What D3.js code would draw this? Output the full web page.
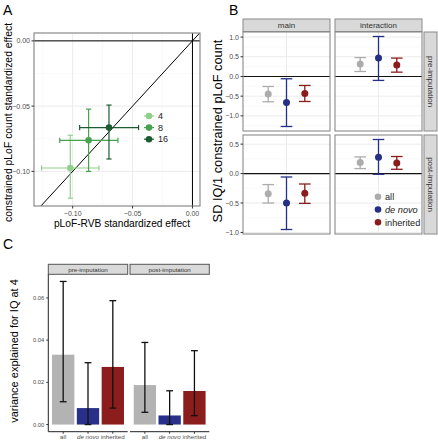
<!DOCTYPE html>
<html><head><meta charset="utf-8">
<script src="https://cdn.jsdelivr.net/npm/d3@7"></script>
<style>body{margin:0;background:#fff} svg{display:block;font-family:"Liberation Sans",Arial,sans-serif}</style>
</head><body><svg id="c" width="438" height="440"></svg>
<script>
// ---------- Panel A data ----------
const aGroups = ["4", "8", "16"];
const aX   = [-0.1020, -0.0867, -0.0697];
const aXlo = [-0.1260, -0.1108, -0.0942];
const aXhi = [-0.0781, -0.0622, -0.0450];
const aY   = [-0.0974, -0.0762, -0.0664];
const aYlo = [-0.1205, -0.1000, -0.0905];
const aYhi = [-0.0723, -0.0523, -0.0492];
const aColors = ["#8fd08a", "#45a24f", "#1d5b30"];
const aTicks = [-0.10, -0.05, 0.00];
const aMinor = [-0.125, -0.075, -0.025];

// ---------- Panel B data ----------
const bCats = ["all", "de novo", "inherited"];
const bCols = ["main", "interaction"];
const bRows = ["pre-imputation", "post-imputation"];
const bPreMainEst = [-0.447, -0.660, -0.430];
const bPreMainLo  = [-0.642, -1.270, -0.635];
const bPreMainHi  = [-0.254, -0.058, -0.228];
const bPreIntEst  = [0.315, 0.467, 0.289];
const bPreIntLo   = [0.127, -0.100, 0.110];
const bPreIntHi   = [0.480, 1.015, 0.467];
const bPostMainEst = [-0.341, -0.500, -0.336];
const bPostMainLo  = [-0.500, -0.950, -0.506];
const bPostMainHi  = [-0.187, -0.058, -0.177];
const bPostIntEst  = [0.187, 0.278, 0.181];
const bPostIntLo   = [0.085, -0.012, 0.073];
const bPostIntHi   = [0.283, 0.579, 0.290];
const bColors = ["#acacac", "#262f86", "#8b1c1c"];
const bPreTicks = [-1.0, -0.5, 0.0, 0.5, 1.0];
const bPostTicks = [-1.0, -0.5, 0.0, 0.5];

// ---------- Panel C data ----------
const cPanels = ["pre-imputation", "post-imputation"];
const cPreVal  = [0.0331, 0.0078, 0.0273];
const cPreLo   = [0.0108, 0.0000, 0.0078];
const cPreHi   = [0.0678, 0.0293, 0.0587];
const cPostVal = [0.0187, 0.0043, 0.0159];
const cPostLo  = [0.0058, 0.0000, 0.0042];
const cPostHi  = [0.0389, 0.0160, 0.0350];
const cColors = ["#b3b3b3", "#29308a", "#8c1d1d"];
const cTicks = [0.00, 0.02, 0.04, 0.06];

const svg = d3.select("#c");
const GRID = "#ebebeb", GRIDMIN = "#f5f5f5", BORDER = "#8a8a8a", TXT = "#4d4d4d";
const fmt2 = v => d3.format(".2f")(v).replace("-", "\u2212");
const fmt1 = v => d3.format(".1f")(v).replace("-", "\u2212");
function expand(lo, hi, m = 0.05) { const r = hi - lo; return [lo - r * m, hi + r * m]; }

// panel letters
[["A", 3, 15], ["B", 229, 15], ["C", 3, 249]].forEach(([t, x, y]) =>
  svg.append("text").attr("x", x).attr("y", y).attr("font-size", 14).text(t));

// ================= Panel A =================
{
  const L = 34, R = 200, T = 33, B = 206;
  const xd = expand(d3.min(aXlo.concat([0])), d3.max(aXhi.concat([0])));
  const yd = expand(d3.min(aYlo.concat([0])), d3.max(aYhi.concat([0])));
  const x = d3.scaleLinear().domain(xd).range([L, R]);
  const y = d3.scaleLinear().domain(yd).range([B, T]);
  const g = svg.append("g");
  g.append("rect").attr("x", L).attr("y", T).attr("width", R - L).attr("height", B - T).attr("fill", "#fff");
  aMinor.forEach(v => {
    if (v > xd[0]) g.append("line").attr("x1", x(v)).attr("x2", x(v)).attr("y1", T).attr("y2", B).attr("stroke", GRIDMIN).attr("stroke-width", 0.6);
    if (v > yd[0]) g.append("line").attr("y1", y(v)).attr("y2", y(v)).attr("x1", L).attr("x2", R).attr("stroke", GRIDMIN).attr("stroke-width", 0.6);
  });
  aTicks.forEach(v => {
    g.append("line").attr("x1", x(v)).attr("x2", x(v)).attr("y1", T).attr("y2", B).attr("stroke", GRID).attr("stroke-width", 1);
    g.append("line").attr("y1", y(v)).attr("y2", y(v)).attr("x1", L).attr("x2", R).attr("stroke", GRID).attr("stroke-width", 1);
  });
  const clipId = "clipA";
  svg.append("clipPath").attr("id", clipId).append("rect").attr("x", L).attr("y", T).attr("width", R - L).attr("height", B - T);
  const gc = g.append("g").attr("clip-path", `url(#${clipId})`);
  gc.append("line").attr("x1", x(0)).attr("x2", x(0)).attr("y1", T).attr("y2", B).attr("stroke", "#000").attr("stroke-width", 1);
  gc.append("line").attr("y1", y(0)).attr("y2", y(0)).attr("x1", L).attr("x2", R).attr("stroke", "#000").attr("stroke-width", 1);
  const dl = Math.min(xd[0], yd[0]), dh = Math.max(xd[1], yd[1]);
  gc.append("line").attr("x1", x(dl)).attr("y1", y(dl)).attr("x2", x(dh)).attr("y2", y(dh)).attr("stroke", "#000").attr("stroke-width", 1);
  aGroups.forEach((k, i) => {
    const c = aColors[i], cap = 2.6;
    gc.append("line").attr("x1", x(aXlo[i])).attr("x2", x(aXhi[i])).attr("y1", y(aY[i])).attr("y2", y(aY[i])).attr("stroke", c).attr("stroke-width", 1.2);
    [aXlo[i], aXhi[i]].forEach(v => gc.append("line").attr("x1", x(v)).attr("x2", x(v)).attr("y1", y(aY[i]) - cap).attr("y2", y(aY[i]) + cap).attr("stroke", c).attr("stroke-width", 1.2));
    gc.append("line").attr("x1", x(aX[i])).attr("x2", x(aX[i])).attr("y1", y(aYlo[i])).attr("y2", y(aYhi[i])).attr("stroke", c).attr("stroke-width", 1.2);
    [aYlo[i], aYhi[i]].forEach(v => gc.append("line").attr("y1", y(v)).attr("y2", y(v)).attr("x1", x(aX[i]) - cap).attr("x2", x(aX[i]) + cap).attr("stroke", c).attr("stroke-width", 1.2));
    gc.append("circle").attr("cx", x(aX[i])).attr("cy", y(aY[i])).attr("r", 3.3).attr("fill", c);
  });
  g.append("rect").attr("x", L).attr("y", T).attr("width", R - L).attr("height", B - T).attr("fill", "none").attr("stroke", BORDER).attr("stroke-width", 1.2);
  aTicks.forEach(v => {
    g.append("line").attr("x1", x(v)).attr("x2", x(v)).attr("y1", B).attr("y2", B + 2.5).attr("stroke", "#333");
    g.append("text").attr("x", x(v)).attr("y", B + 9.5).attr("text-anchor", "middle").attr("font-size", 7).attr("fill", TXT).text(fmt2(v));
    g.append("line").attr("x1", L - 2.5).attr("x2", L).attr("y1", y(v)).attr("y2", y(v)).attr("stroke", "#333");
    g.append("text").attr("x", L - 4).attr("y", y(v) + 2.5).attr("text-anchor", "end").attr("font-size", 7).attr("fill", TXT).text(fmt2(v));
  });
  g.append("text").attr("x", (L + R) / 2 + 5).attr("y", 227).attr("text-anchor", "middle").attr("font-size", 10.2).text("pLoF-RVB standardized effect");
  g.append("text").attr("transform", `translate(12,${(T + B) / 2 + 3}) rotate(-90)`).attr("text-anchor", "middle").attr("font-size", 10.4).text("constrained pLoF count standardized effect");
  // legend
  aGroups.forEach((k, i) => {
    const ly = 116 + i * 11.6;
    g.append("line").attr("x1", 144).attr("x2", 154).attr("y1", ly).attr("y2", ly).attr("stroke", aColors[i]).attr("stroke-width", 1.2);
    g.append("circle").attr("cx", 149).attr("cy", ly).attr("r", 3.3).attr("fill", aColors[i]);
    g.append("text").attr("x", 158).attr("y", ly + 3.2).attr("font-size", 9).attr("fill", "#222").text(k);
  });
}

// ================= Panel B =================
{
  const colX = [[243, 330], [335, 422]];
  const rowY = [[32, 131], [135, 234]];
  const est = [[bPreMainEst, bPreIntEst], [bPostMainEst, bPostIntEst]];
  const lo = [[bPreMainLo, bPreIntLo], [bPostMainLo, bPostIntLo]];
  const hi = [[bPreMainHi, bPreIntHi], [bPostMainHi, bPostIntHi]];
  const ticks = [bPreTicks, bPostTicks];
  bRows.forEach((rn, r) => {
    const all = lo[r].flat().concat(hi[r].flat(), [0]);
    const y = d3.scaleLinear().domain(expand(d3.min(all), d3.max(all))).range([rowY[r][1], rowY[r][0]]);
    const minor = [];
    for (let i = 0; i < ticks[r].length - 1; i++) minor.push((ticks[r][i] + ticks[r][i + 1]) / 2);
    minor.push(ticks[r][0] - 0.25, ticks[r][ticks[r].length - 1] + 0.25);
    bCols.forEach((cn, c) => {
      const [L, R] = colX[c], [T, B] = rowY[r];
      const x = d3.scalePoint().domain(bCats).range([L, R]).padding(1.377);
      const g = svg.append("g");
      g.append("rect").attr("x", L).attr("y", T).attr("width", R - L).attr("height", B - T).attr("fill", "#fff");
      minor.forEach(v => { const p = y(v); if (p > T && p < B) g.append("line").attr("x1", L).attr("x2", R).attr("y1", p).attr("y2", p).attr("stroke", GRIDMIN).attr("stroke-width", 0.6); });
      ticks[r].forEach(v => { const p = y(v); if (p > T && p < B) g.append("line").attr("x1", L).attr("x2", R).attr("y1", p).attr("y2", p).attr("stroke", GRID).attr("stroke-width", 1); });
      g.append("line").attr("x1", x("de novo")).attr("x2", x("de novo")).attr("y1", T).attr("y2", B).attr("stroke", GRID).attr("stroke-width", 1);
      g.append("line").attr("x1", L).attr("x2", R).attr("y1", y(0)).attr("y2", y(0)).attr("stroke", "#111").attr("stroke-width", 1.1);
      bCats.forEach((k, i) => {
        const cx = x(k), col = bColors[i], cap = 5.8;
        g.append("line").attr("x1", cx).attr("x2", cx).attr("y1", y(lo[r][c][i])).attr("y2", y(hi[r][c][i])).attr("stroke", col).attr("stroke-width", 1.3);
        [lo[r][c][i], hi[r][c][i]].forEach(v => g.append("line").attr("x1", cx - cap).attr("x2", cx + cap).attr("y1", y(v)).attr("y2", y(v)).attr("stroke", col).attr("stroke-width", 1.3));
        g.append("circle").attr("cx", cx).attr("cy", y(est[r][c][i])).attr("r", 3.5).attr("fill", col);
      });
      g.append("rect").attr("x", L).attr("y", T).attr("width", R - L).attr("height", B - T).attr("fill", "none").attr("stroke", BORDER).attr("stroke-width", 1.1);
      if (c === 0) {
        ticks[r].forEach(v => {
          g.append("line").attr("x1", L - 2.5).attr("x2", L).attr("y1", y(v)).attr("y2", y(v)).attr("stroke", "#333");
          g.append("text").attr("x", L - 4).attr("y", y(v) + 2.5).attr("text-anchor", "end").attr("font-size", 7).attr("fill", TXT).text(fmt1(v));
        });
      }
      if (r === 0) {
        g.append("rect").attr("x", L).attr("y", 19).attr("width", R - L).attr("height", 12.5).attr("fill", "#d9d9d9").attr("stroke", BORDER).attr("stroke-width", 1);
        g.append("text").attr("x", (L + R) / 2).attr("y", 28.3).attr("text-anchor", "middle").attr("font-size", 8).attr("fill", "#333").text(cn);
      }
    });
    const [T, B] = rowY[r];
    svg.append("rect").attr("x", 424).attr("y", T).attr("width", 13).attr("height", B - T).attr("fill", "#d9d9d9").attr("stroke", BORDER).attr("stroke-width", 1);
    svg.append("text").attr("transform", `translate(427.5,${(T + B) / 2}) rotate(90)`).attr("text-anchor", "middle").attr("font-size", 8).attr("fill", "#333").text(rn);
  });
  svg.append("text").attr("transform", `translate(222,131) rotate(-90)`).attr("text-anchor", "middle").attr("font-size", 12.8).text("SD IQ/1 constrained pLoF count");
  // legend
  bCats.forEach((k, i) => {
    const ly = 196.7 + i * 12.8;
    svg.append("circle").attr("cx", 378).attr("cy", ly).attr("r", 3.3).attr("fill", bColors[i]);
    svg.append("text").attr("x", 385).attr("y", ly + 3.2).attr("font-size", 9.2).attr("fill", "#222")
      .attr("font-style", k === "de novo" ? "italic" : "normal").text(k);
  });
}

// ================= Panel C =================
{
  const panX = [[48.3, 127.7], [130, 209.3]];
  const T = 274.3, B = 431.7;
  const vals = [cPreVal, cPostVal], los = [cPreLo, cPostLo], his = [cPreHi, cPostHi];
  const allv = cPreHi.concat(cPostHi, cPreLo, cPostLo, [0]);
  const y = d3.scaleLinear().domain(expand(d3.min(allv), d3.max(allv))).range([B, T]);
  cPanels.forEach((pn, p) => {
    const [L, R] = panX[p];
    const x = d3.scaleBand().domain(bCats).range([L, R]).paddingInner(0.1).paddingOuter(0.15);
    const g = svg.append("g");
    bCats.forEach((k, i) => {
      g.append("rect").attr("x", x(k)).attr("y", y(vals[p][i])).attr("width", x.bandwidth()).attr("height", y(0) - y(vals[p][i])).attr("fill", cColors[i]);
    });
    bCats.forEach((k, i) => {
      const cx = x(k) + x.bandwidth() / 2, cap = 3.4;
      g.append("line").attr("x1", cx).attr("x2", cx).attr("y1", y(los[p][i])).attr("y2", y(his[p][i])).attr("stroke", "#111").attr("stroke-width", 1.3);
      [los[p][i], his[p][i]].forEach(v => g.append("line").attr("x1", cx - cap).attr("x2", cx + cap).attr("y1", y(v)).attr("y2", y(v)).attr("stroke", "#111").attr("stroke-width", 1.3));
      g.append("line").attr("x1", cx).attr("x2", cx).attr("y1", B).attr("y2", B + 2).attr("stroke", "#333");
      g.append("text").attr("x", cx).attr("y", 439).attr("text-anchor", "middle").attr("font-size", 6.2).attr("fill", TXT)
        .attr("font-style", k === "de novo" ? "italic" : "normal").text(k);
    });
    g.append("line").attr("x1", L).attr("x2", R).attr("y1", B).attr("y2", B).attr("stroke", "#222").attr("stroke-width", 1);
    g.append("rect").attr("x", L).attr("y", 264.3).attr("width", R - L).attr("height", 10).attr("fill", "#d9d9d9").attr("stroke", "#555").attr("stroke-width", 1);
    g.append("text").attr("x", (L + R) / 2).attr("y", 271.6).attr("text-anchor", "middle").attr("font-size", 6.2).attr("fill", "#333").text(pn);
  });
  const L = panX[0][0];
  svg.append("line").attr("x1", L).attr("x2", L).attr("y1", T).attr("y2", B).attr("stroke", "#222").attr("stroke-width", 1);
  cTicks.forEach(v => {
    svg.append("line").attr("x1", L - 2).attr("x2", L).attr("y1", y(v)).attr("y2", y(v)).attr("stroke", "#333");
    svg.append("text").attr("x", L - 4).attr("y", y(v) + 2).attr("text-anchor", "end").attr("font-size", 5.8).attr("fill", TXT).text(fmt2(v));
  });
  svg.append("text").attr("transform", `translate(18,${(T + B) / 2 - 2}) rotate(-90)`).attr("text-anchor", "middle").attr("font-size", 11).text("variance explained for IQ at 4");
}
</script></body></html>
